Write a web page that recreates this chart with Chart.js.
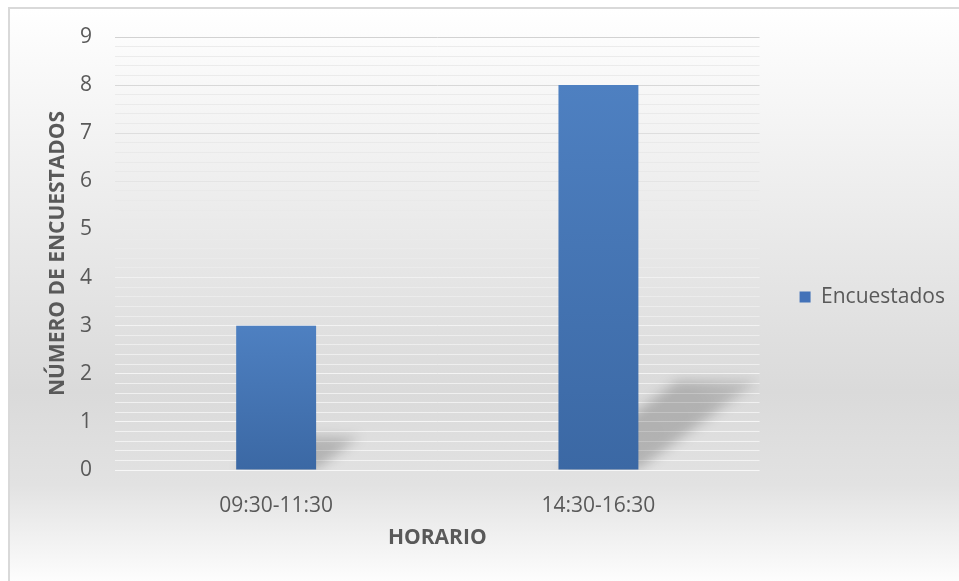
<!DOCTYPE html>
<html>
<head>
<meta charset="utf-8">
<script src="https://cdn.jsdelivr.net/npm/chart.js@4.4.1/dist/chart.umd.min.js"></script>
<style>
  html, body { margin: 0; padding: 0; background: #ffffff; overflow: hidden; }
  #frame {
    position: absolute; left: 8px; top: 7px; width: 960px; height: 580px;
    border-left: 2px solid #d9d9d9; border-top: 2px solid #d9d9d9;
    background: linear-gradient(to bottom, #ffffff 0%, #fbfbfb 7%, #dadada 66%, #e2e2e2 82%, #ffffff 100%);
  }
  #wrap { position: absolute; left: 0; top: 0; width: 959px; height: 581px; }
</style>
</head>
<body>
<div id="frame"></div>
<div id="wrap"><canvas id="horarioChart" width="959" height="581"></canvas></div>
<script>
const horarios = ['09:30-11:30', '14:30-16:30'];
const encuestados = [3, 8];
const yLabels = [0, 1, 2, 3, 4, 5, 6, 7, 8, 9];
const yMinorStep = 0.2;

const textColor = '#595959';
const fontFamily = '"Open Sans", sans-serif';

function isMajor(v) {
    return yLabels.some(l => Math.abs(l - v) < 1e-6);
}

// gradient for grid lines: grey on the light top, almost white over the darker middle
function gridGradient(chart, stops) {
    const area = chart.chartArea;
    if (!area) return stops[0][1];
    const g = chart.ctx.createLinearGradient(0, area.top, 0, area.bottom);
    stops.forEach(s => g.addColorStop(s[0], s[1]));
    return g;
}

// soft slanted shadow behind each bar
const barShadow = {
    id: 'barShadow',
    beforeDatasetsDraw(chart) {
        const { ctx, chartArea } = chart;
        const meta = chart.getDatasetMeta(0);
        ctx.save();
        ctx.beginPath();
        ctx.rect(chartArea.left, chartArea.top, chartArea.width, chartArea.height);
        ctx.clip();
        ctx.filter = 'blur(6px)';
        meta.data.forEach(bar => {
            const h = bar.base - bar.y;
            const dx = h * 0.31, dy = -h * 0.23;
            const l = bar.x - bar.width / 2, r = bar.x + bar.width / 2;
            const g = ctx.createLinearGradient(r, bar.base, r + dx, bar.base + dy);
            g.addColorStop(0, 'rgba(0,0,0,0.20)');
            g.addColorStop(0.6, 'rgba(0,0,0,0.19)');
            g.addColorStop(1, 'rgba(0,0,0,0.12)');
            ctx.fillStyle = g;
            ctx.beginPath();
            ctx.moveTo(l, bar.base);
            ctx.lineTo(r, bar.base);
            ctx.lineTo(r + dx, bar.base + dy);
            ctx.lineTo(l + dx, bar.base + dy);
            ctx.closePath();
            ctx.fill();
        });
        ctx.restore();
    }
};

const ctx = document.getElementById('horarioChart').getContext('2d');

const chart = new Chart(ctx, {
    type: 'bar',
    data: {
        labels: horarios,
        datasets: [{
            label: 'Encuestados',
            data: encuestados,
            categoryPercentage: 1,
            barPercentage: 0.248,
            borderWidth: 0,
            backgroundColor: function(context) {
                const c = context.chart;
                if (!c.chartArea || !c.scales.y) return '#4472c4';
                const top = c.scales.y.getPixelForValue(context.raw);
                const bottom = c.scales.y.getPixelForValue(0);
                const g = c.ctx.createLinearGradient(0, top, 0, bottom);
                g.addColorStop(0, '#4e80c1');
                g.addColorStop(1, '#3b68a4');
                return g;
            }
        }]
    },
    options: {
        responsive: false,
        animation: false,
        layout: {
            padding: { top: 37, right: 4, bottom: 24, left: 0 }
        },
        plugins: {
            legend: {
                display: true,
                position: 'right',
                labels: {
                    boxWidth: 11,
                    boxHeight: 11,
                    padding: 40,
                    color: textColor,
                    font: { family: fontFamily, size: 21 },
                    generateLabels: function(c) {
                        const items = Chart.defaults.plugins.legend.labels.generateLabels(c);
                        items.forEach(it => {
                            it.fillStyle = '#4372b8';
                            it.strokeStyle = '#4372b8';
                            it.lineWidth = 0;
                        });
                        return items;
                    }
                }
            },
            tooltip: { enabled: false }
        },
        scales: {
            x: {
                grid: { display: false },
                border: { display: false },
                ticks: {
                    color: textColor,
                    padding: 15,
                    font: { family: fontFamily, size: 21 }
                },
                title: {
                    display: true,
                    text: 'HORARIO',
                    color: textColor,
                    padding: { top: 0, bottom: 6 },
                    font: { family: fontFamily, size: 21, weight: 'bold' }
                },
                afterFit: function(scale) { scale.height = 87; }
            },
            y: {
                min: 0,
                max: 9,
                border: { display: false },
                grid: {
                    drawTicks: false,
                    lineWidth: 1,
                    color: function(context) {
                        const v = context.tick ? context.tick.value : 0;
                        if (isMajor(v)) {
                            return gridGradient(context.chart, [[0, '#d2d2d2'], [0.3, '#e2e2e2'], [0.55, '#f1f1f1'], [1, '#f7f7f7']]);
                        }
                        return gridGradient(context.chart, [[0, '#ececec'], [0.3, '#e9e9e9'], [0.55, '#ebebeb'], [1, '#f3f3f3']]);
                    }
                },
                ticks: {
                    stepSize: yMinorStep,
                    autoSkip: false,
                    padding: 23,
                    color: textColor,
                    font: { family: fontFamily, size: 21 },
                    callback: function(value) {
                        return isMajor(value) ? String(Math.round(value)) : '';
                    }
                },
                title: {
                    display: true,
                    text: 'NÚMERO DE ENCUESTADOS',
                    color: textColor,
                    padding: { top: 45, bottom: 0 },
                    font: { family: fontFamily, size: 21, weight: 'bold' }
                },
                afterFit: function(scale) { scale.width = 115; }
            }
        }
    },
    plugins: [barShadow]
});
</script>
</body>
</html>
